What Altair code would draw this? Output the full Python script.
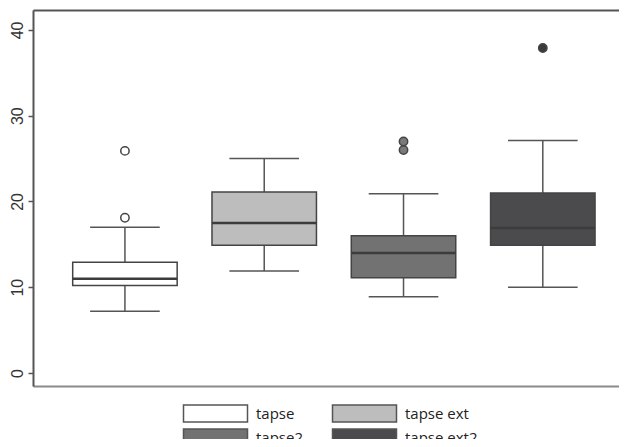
import altair as alt
import pandas as pd

groups = ["tapse", "tapse ext", "tapse2", "tapse ext2"]
positions = [1, 2, 3, 4]
lower_whisker = [7.2, 11.9, 8.9, 10.0]
q1 = [10.2, 14.9, 11.1, 14.9]
median = [11.0, 17.5, 14.0, 16.9]
q3 = [12.9, 21.1, 16.0, 21.0]
upper_whisker = [17.0, 25.0, 20.9, 27.1]
fill_colors = ["#ffffff", "#bdbdbd", "#727272", "#4b4b4d"]

outlier_group = ["tapse", "tapse", "tapse2", "tapse2", "tapse ext2"]
outlier_pos = [1, 1, 3, 3, 4]
outlier_value = [18.1, 25.9, 26.0, 27.0, 37.9]
outlier_fill = ["#ffffff", "#ffffff", "#7a7a7a", "#7a7a7a", "#3a3a3a"]

y_ticks = [0, 10, 20, 30, 40]

boxes = pd.DataFrame({
    "group": groups, "pos": positions, "lo": lower_whisker, "q1": q1,
    "med": median, "q3": q3, "hi": upper_whisker,
})
outs = pd.DataFrame({"group": outlier_group, "pos": outlier_pos,
                     "value": outlier_value, "fill": outlier_fill})

LINE = "#555555"
xscale = alt.Scale(domain=[0.34, 4.547], nice=False, zero=False)
yscale = alt.Scale(domain=[-1.52, 42.33], nice=False, zero=False)
xaxis_bottom = alt.Axis(orient="bottom", labels=False, ticks=False, title=None,
                        grid=False, domainColor="#8a8a8a", domainWidth=2)
xaxis_top = alt.Axis(orient="top", labels=False, ticks=False, title=None,
                     grid=False, domainColor="#555555", domainWidth=2)
yaxis = alt.Axis(values=y_ticks, title=None, grid=False, labelAngle=270,
                 labelFont="Liberation Sans", labelFontSize=16,
                 labelColor="#333333", tickColor=LINE, tickSize=5,
                 tickWidth=1.5, domainColor=LINE, domainWidth=2, labelPadding=3)

base = alt.Chart(boxes).transform_calculate(
    xl="datum.pos - 0.375", xr="datum.pos + 0.375",
    cl="datum.pos - 0.25", cr="datum.pos + 0.25",
)

whisker = base.mark_rule(color=LINE, strokeWidth=1.5).encode(
    x=alt.X("pos:Q", scale=xscale, axis=xaxis_bottom),
    y=alt.Y("lo:Q", scale=yscale, axis=yaxis),
    y2="hi:Q",
)
cap_lo = base.mark_rule(color=LINE, strokeWidth=1.5).encode(
    x=alt.X("cl:Q", scale=xscale, axis=xaxis_top), x2="cr:Q",
    y=alt.Y("lo:Q", scale=yscale, axis=yaxis),
)
cap_hi = base.mark_rule(color=LINE, strokeWidth=1.5).encode(
    x=alt.X("cl:Q", scale=xscale, axis=None), x2="cr:Q",
    y=alt.Y("hi:Q", scale=yscale, axis=yaxis),
)
box = base.mark_rect(stroke="#444444", strokeWidth=1.5).encode(
    x=alt.X("xl:Q", scale=xscale, axis=None), x2="xr:Q",
    y=alt.Y("q1:Q", scale=yscale, axis=yaxis), y2="q3:Q",
    fill=alt.Fill("group:N",
                  scale=alt.Scale(domain=groups, range=fill_colors),
                  legend=alt.Legend(
                      orient="none", legendX=175, legendY=396, columns=2,
                      title=None, direction="horizontal",
                      symbolType="M-8,-2.125H8V2.125H-8Z", symbolSize=64,
                      symbolStrokeColor="#555555", symbolStrokeWidth=1.5,
                      labelFont="Open Sans", labelFontSize=15,
                      labelColor="#222222", labelOffset=33,
                      columnPadding=25, rowPadding=1, padding=0,
                  )),
)
med = base.mark_rule(color="#3c3c3c", strokeWidth=2.5).encode(
    x=alt.X("xl:Q", scale=xscale, axis=None), x2="xr:Q",
    y=alt.Y("med:Q", scale=yscale, axis=yaxis),
)
pts = alt.Chart(outs).mark_point(filled=True, size=70, stroke="#444444",
                                 strokeWidth=1.5, opacity=1).encode(
    x=alt.X("pos:Q", scale=xscale, axis=None),
    y=alt.Y("value:Q", scale=yscale, axis=yaxis),
    fill=alt.Fill("fill:N", scale=None, legend=None),
)

chart = alt.layer(whisker, cap_lo, cap_hi, box, med, pts).resolve_scale(
    fill="independent"
).resolve_axis(x="independent").properties(
    width=586, height=376,
    autosize=alt.AutoSizeParams(type="none"),
    padding={"left": 25, "top": 2, "right": 0, "bottom": 53},
).configure_view(stroke=None).configure(background="#ffffff")

chart.save("out.html", embed_options={"renderer": "svg", "actions": False})
